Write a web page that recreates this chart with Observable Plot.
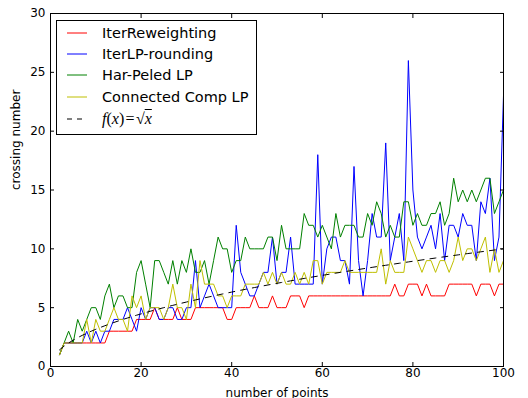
<!DOCTYPE html>
<html><head><meta charset="utf-8">
<script src="https://cdn.jsdelivr.net/npm/d3@7"></script>
<script src="https://cdn.jsdelivr.net/npm/@observablehq/plot@0.6"></script>
<style>
body{margin:0;background:#fff;}
#wrap{position:relative;width:528px;height:398px;font-family:"DejaVu Sans",sans-serif;}
#legend{position:absolute;left:56px;top:20px;width:201px;height:115px;border:1px solid #000;background:#fff;box-sizing:border-box;}
.row{position:absolute;left:0;height:20px;display:flex;align-items:center;font-size:14.5px;color:#000;white-space:nowrap;}
.row svg{margin-left:10px;margin-right:15px;}
.math{font-family:"Liberation Serif",serif;font-size:16px;}
</style></head><body><div id="wrap"></div>
<script>
const nPoints = d3.range(2, 101);
const seriesNames = ["IterReweighting", "IterLP-rounding", "Har-Peled LP", "Connected Comp LP"];
const seriesColors = ["#ff0000", "#0000ff", "#008000", "#bfbf00"];
const iterReweighting = [1,
 2,2,2,2,2,2,2,2,2,2,
 3,3,3,3,3,3,
 4,4,4,4,
 5,
 4,4,4,4,
 5,
 4,4,4,
 5,5,5,5,5,5,5,
 4,4,
 5,5,5,5,
 6,
 5,5,5,
 6,
 5,5,5,
 6,6,6,
 5,
 6,6,6,6,6,6,6,6,6,6,6,6,6,6,6,6,6,6,6,
 7,
 6,6,
 7,7,7,
 6,
 7,
 6,6,6,6,
 7,7,7,7,7,7,
 6,
 7,7,7,
 6,
 7,7];
const iterLPRounding = [1,2,2,2,2,2,3,2,3,2,3,
 3,4,4,4,5,4,3,5,4,5,
 5,4,4,5,5,4,4,5,5,9,
 5,6,7,6,5,5,5,5,12,8,
 7,6,6,7,8,8,11,7,8,8,
 11,7,7,7,7,7,18,7,10,11,
 11,9,9,7,17,9,6,9,13,11,
 11,19,9,11,13,9,26,15,11,10,
 11,12,10,13,9,12,12,11,13,12,
 12,9,14,13,16,9,11,23];
const harPeledLP = [1,2,3,2,4,3,4,5,5,4,
 6,7,5,6,6,5,5,8,9,7,
 5,9,9,8,7,9,7,9,8,10,
 8,8,9,7,9,11,10,10,8,9,
 9,11,10,10,10,10,11,11,9,12,
 10,10,10,10,13,12,12,11,12,11,
 10,13,11,12,12,12,11,11,13,12,
 14,13,11,12,11,11,14,14,12,13,
 12,12,13,13,14,12,13,16,14,15,
 14,15,14,15,16,16,13,14,15];
const connectedCompLP = [1,2,2,2,2,2,4,2,4,3,
 3,4,5,4,4,3,6,5,6,4,
 5,5,5,4,5,7,5,5,4,7,
 5,9,7,7,7,6,6,5,6,6,
 6,7,7,7,7,8,7,8,7,8,
 7,7,8,7,8,7,9,9,7,8,
 8,8,8,9,8,8,8,8,8,8,
 8,10,7,9,8,8,8,11,10,9,
 8,9,9,8,9,9,8,9,11,9,
 10,10,9,10,11,8,10,8,9];
const allSeries = [iterReweighting, iterLPRounding, harPeledLP, connectedCompLP];
const xTicks = [0, 20, 40, 60, 80, 100];
const yTicks = [0, 5, 10, 15, 20, 25, 30];
const xLabel = "number of points";
const yLabel = "crossing number";

const font = "DejaVu Sans";
const marks = [];
allSeries.forEach((s, k) => {
  marks.push(Plot.lineY(s, {x: (d, i) => nPoints[i], y: d => d, stroke: seriesColors[k], strokeWidth: 1}));
});
marks.push(Plot.line(nPoints, {x: d => d, y: d => Math.sqrt(d), stroke: "black", strokeWidth: 1, strokeDasharray: "6,6"}));
marks.push(Plot.frame({stroke: "black", strokeWidth: 1}));
marks.push(Plot.axisX({anchor: "bottom", ticks: xTicks, tickSize: -4, tickPadding: 6, label: null, fontSize: 12}));
marks.push(Plot.axisX({anchor: "top", ticks: xTicks, tickSize: -4, tickFormat: () => "", label: null}));
marks.push(Plot.axisY({anchor: "left", ticks: yTicks, tickSize: -4, tickPadding: 9, label: null, fontSize: 12}));
marks.push(Plot.axisY({anchor: "right", ticks: yTicks, tickSize: -4, tickFormat: () => "", label: null}));
marks.push(Plot.text([xLabel], {text: d => d, frameAnchor: "bottom", lineAnchor: "bottom", dy: 30, fontSize: 12, fill: "black"}));
marks.push(Plot.text([yLabel], {text: d => d, frameAnchor: "left", dx: -34, rotate: -90, fontSize: 12, fill: "black"}));

const chart = Plot.plot({
  width: 528, height: 398,
  marginLeft: 50, marginRight: 25, marginTop: 13, marginBottom: 32,
  style: {fontFamily: font, fontSize: "12px", color: "black", background: "white"},
  x: {domain: [0, 100]},
  y: {domain: [0, 30]},
  marks
});
const wrap = document.getElementById("wrap");
wrap.appendChild(chart);

const legend = document.createElement("div");
legend.id = "legend";
const rowTops = [2, 23, 44, 65.5, 88];
const entries = seriesNames.map((n, k) => ({label: n, color: seriesColors[k], dash: null}));
entries.push({label: null, color: "black", dash: "5,5"});
entries.forEach((e, k) => {
  const row = document.createElement("div");
  row.className = "row";
  row.style.top = rowTops[k] + "px";
  row.innerHTML = `<svg width="20" height="4"><line x1="0" y1="2" x2="20" y2="2" stroke="${e.color}" stroke-width="1" ${e.dash ? `stroke-dasharray="${e.dash}"` : ""}/></svg>` +
    (e.label ? `<span>${e.label}</span>` : `<span class="math"><i>f</i>(<i>x</i>)&#8202;=&#8202;√<span style="text-decoration:overline"><i>x</i></span></span>`);
  legend.appendChild(row);
});
wrap.appendChild(legend);
</script></body></html>
